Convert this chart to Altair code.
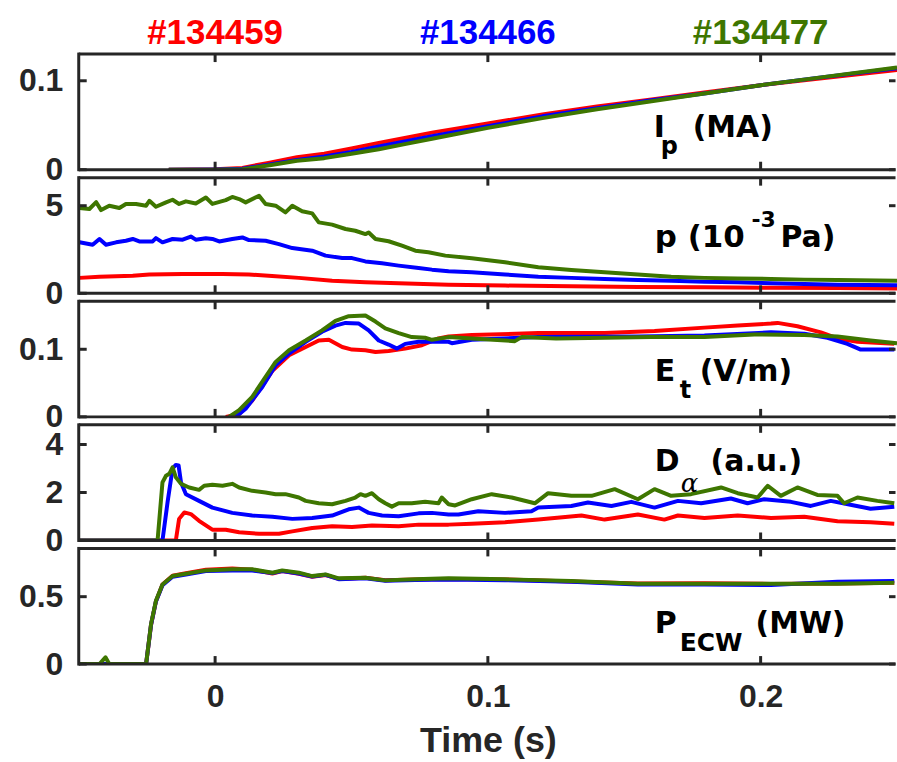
import altair as alt
import pandas as pd

# Discharges and their trace colours
SHOTS = ["#134459", "#134466", "#134477"]
COLORS = ["#FF0000", "#0000FF", "#3E7600"]

# ---------------- Plasma current Ip (MA) ----------------
ip_t = [-0.017, 0.0, 0.01, 0.02, 0.03, 0.04, 0.05, 0.06, 0.07, 0.08, 0.10, 0.12,
        0.14, 0.16, 0.18, 0.20, 0.22, 0.25]
ip_134459 = [0, 0.0005, 0.002, 0.008, 0.014, 0.018, 0.024, 0.030, 0.036, 0.042,
             0.052, 0.062, 0.071, 0.079, 0.087, 0.095, 0.102, 0.112]
ip_134466 = [0, 0.0003, 0.001, 0.006, 0.011, 0.015, 0.020, 0.026, 0.032, 0.038,
             0.049, 0.060, 0.069, 0.078, 0.086, 0.095, 0.103, 0.114]
ip_134477 = [0, 0.0, 0.0005, 0.005, 0.010, 0.013, 0.018, 0.023, 0.029, 0.035,
             0.047, 0.058, 0.068, 0.077, 0.086, 0.095, 0.103, 0.115]

# ---------------- Neutral pressure p (1e-3 Pa) ----------------
p_t_134459 = [-0.0497, -0.0424, -0.0302, -0.0241, -0.0119, 0.0027, 0.0124, 0.0209,
              0.0307, 0.0429, 0.0551, 0.0673, 0.0856, 0.1063, 0.1306, 0.155, 0.1794,
              0.2038, 0.2282, 0.25]
p_134459 = [0.88, 0.95, 1.0, 1.07, 1.1, 1.1, 1.07, 0.99, 0.88, 0.72, 0.63, 0.57,
            0.49, 0.44, 0.40, 0.36, 0.34, 0.32, 0.30, 0.28]
p_t_134466 = [-0.0497, -0.0449, -0.0424, -0.04, -0.0363, -0.0327, -0.0302, -0.0278,
              -0.0229, -0.0217, -0.0193, -0.0156, -0.0119, -0.0089, -0.0071, -0.0034,
              -0.001, 0.0015, 0.0063, 0.01, 0.0124, 0.0185, 0.0234, 0.0283, 0.0356,
              0.0405, 0.0466, 0.0502, 0.0551, 0.0612, 0.0673, 0.0746, 0.0795, 0.0856,
              0.0941, 0.1063, 0.1185, 0.1306, 0.1428, 0.155, 0.1672, 0.1794, 0.1916,
              0.2038, 0.216, 0.2282, 0.25]
p_134466 = [2.91, 2.77, 3.1, 2.77, 2.91, 3.0, 3.1, 2.96, 2.96, 3.15, 2.91, 3.1, 3.06,
            3.24, 3.06, 3.14, 3.1, 2.96, 3.1, 3.19, 3.04, 3.0, 2.81, 2.58, 2.43, 2.15,
            2.01, 2.01, 1.82, 1.71, 1.58, 1.44, 1.35, 1.26, 1.2, 1.07, 0.95, 0.88,
            0.82, 0.76, 0.72, 0.66, 0.63, 0.57, 0.53, 0.49, 0.46]
p_t_134477 = [-0.0497, -0.0461, -0.0436, -0.0418, -0.0388, -0.0351, -0.0327, -0.029,
              -0.0253, -0.0241, -0.0217, -0.018, -0.0156, -0.0132, -0.0107, -0.0071,
              -0.0034, -0.001, 0.0039, 0.0063, 0.0088, 0.0112, 0.0161, 0.0185, 0.0222,
              0.0258, 0.0283, 0.0319, 0.0356, 0.038, 0.0429, 0.0478, 0.0514, 0.0551,
              0.0563, 0.0588, 0.0636, 0.0685, 0.0734, 0.0782, 0.0844, 0.0941, 0.1063,
              0.1185, 0.1306, 0.1428, 0.155, 0.1672, 0.1794, 0.1916, 0.2038, 0.216,
              0.2282, 0.25]
p_134477 = [4.87, 4.81, 5.2, 4.75, 5.0, 4.87, 5.1, 5.1, 5.0, 5.28, 4.94, 5.19, 5.34,
            5.1, 5.25, 5.13, 5.47, 5.1, 5.32, 5.5, 5.38, 5.19, 5.57, 5.1, 5.0, 4.62,
            5.0, 4.68, 4.56, 4.05, 3.92, 3.67, 3.57, 3.38, 3.47, 3.1, 2.97, 2.72,
            2.43, 2.34, 2.15, 2.0, 1.77, 1.49, 1.33, 1.2, 1.07, 0.95, 0.88, 0.84,
            0.82, 0.78, 0.76, 0.72]

# ---------------- Toroidal electric field Et (V/m) ----------------
et_t_134459 = [0.0039, 0.0088, 0.0136, 0.021, 0.0271, 0.0332, 0.038, 0.0417, 0.0466,
               0.0502, 0.0551, 0.0588, 0.0636, 0.0697, 0.0758, 0.0819, 0.0856, 0.0941,
               0.1185, 0.1428, 0.1611, 0.1794, 0.1916, 0.2038, 0.2062, 0.2135, 0.2221,
               0.2282, 0.2355, 0.249]
et_134459 = [0, 0.0039, 0.024, 0.068, 0.0911, 0.1034, 0.113, 0.114, 0.1034, 0.0995,
             0.0985, 0.096, 0.0975, 0.101, 0.106, 0.116, 0.119, 0.121, 0.124, 0.124,
             0.127, 0.132, 0.135, 0.138, 0.139, 0.134, 0.125, 0.116, 0.111, 0.108]
et_t_134466 = [0.0076, 0.0112, 0.0173, 0.0222, 0.0271, 0.0332, 0.0392, 0.0441, 0.0478,
               0.0527, 0.0563, 0.06, 0.0636, 0.0667, 0.0697, 0.0746, 0.0795, 0.0856,
               0.0868, 0.0941, 0.1185, 0.155, 0.1794, 0.2038, 0.216, 0.2245, 0.2318,
               0.2367, 0.249]
et_134466 = [0, 0.0121, 0.0443, 0.0764, 0.0936, 0.111, 0.126, 0.135, 0.139, 0.138,
             0.128, 0.113, 0.107, 0.101, 0.108, 0.111, 0.111, 0.111, 0.109, 0.114,
             0.118, 0.119, 0.1205, 0.125, 0.123, 0.117, 0.108, 0.0995, 0.0995]
et_t_134477 = [0.0051, 0.0088, 0.0136, 0.0185, 0.0222, 0.0271, 0.0332, 0.0392, 0.0441,
               0.049, 0.0551, 0.0588, 0.0624, 0.0673, 0.0721, 0.077, 0.0795, 0.0856,
               0.0941, 0.1099, 0.1124, 0.125, 0.1428, 0.16, 0.1794, 0.1977, 0.216,
               0.2282, 0.2403, 0.25]
et_134477 = [0, 0.0099, 0.0296, 0.0591, 0.0813, 0.0985, 0.113, 0.128, 0.142, 0.149,
             0.150, 0.141, 0.131, 0.124, 0.118, 0.117, 0.114, 0.118, 0.116, 0.112,
             0.118, 0.116, 0.117, 0.118, 0.118, 0.122, 0.121, 0.119, 0.113, 0.109]

# ---------------- D-alpha emission (a.u.) ----------------
da_t_134459 = [-0.05, -0.0144, -0.0132, -0.0113, -0.0089, -0.0059, -0.001, 0.0039,
               0.0088, 0.0161, 0.0234, 0.0283, 0.0356, 0.0429, 0.0502, 0.0575, 0.0673,
               0.0746, 0.0856, 0.0941, 0.1063, 0.1185, 0.1343, 0.1428, 0.155, 0.1647,
               0.1697, 0.1794, 0.1916, 0.2038, 0.216, 0.2282, 0.2403, 0.249]
da_134459 = [0, 0, 0.9, 1.17, 1.1, 0.82, 0.45, 0.45, 0.34, 0.28, 0.28, 0.38, 0.52,
             0.59, 0.56, 0.62, 0.59, 0.66, 0.66, 0.7, 0.76, 0.87, 1.04, 0.87, 1.08,
             0.87, 1.04, 0.94, 1.04, 0.94, 0.99, 0.8, 0.76, 0.7]
da_t_134466 = [-0.05, -0.0193, -0.0174, -0.0156, -0.0144, -0.0134, -0.0125, -0.0107,
               -0.0059, -0.001, 0.0063, 0.0136, 0.021, 0.0283, 0.0356, 0.0429, 0.049,
               0.0527, 0.0563, 0.0612, 0.0673, 0.0746, 0.0795, 0.0856, 0.0892, 0.0965,
               0.1063, 0.116, 0.1185, 0.1306, 0.1367, 0.1453, 0.1526, 0.1611, 0.1697,
               0.1782, 0.1891, 0.1952, 0.2013, 0.2111, 0.2184, 0.2257, 0.2343, 0.2403,
               0.249]
da_134466 = [0, 0, 1.62, 3.0, 3.15, 3.13, 2.42, 1.93, 1.65, 1.37, 1.15, 1.04, 0.99,
             0.9, 0.94, 1.04, 1.3, 1.37, 1.15, 1.04, 1.01, 1.13, 1.15, 1.08, 1.08,
             1.22, 1.15, 1.22, 1.37, 1.44, 1.58, 1.44, 1.61, 1.37, 1.65, 1.55, 1.75,
             1.55, 1.72, 1.61, 1.44, 1.65, 1.46, 1.32, 1.41]
da_t_134477 = [-0.05, -0.0211, -0.0193, -0.018, -0.0168, -0.0156, -0.0144, -0.0125,
               -0.0095, -0.0059, -0.004, -0.001, 0.0027, 0.0063, 0.0088, 0.0136, 0.0185,
               0.0222, 0.0258, 0.0307, 0.0332, 0.038, 0.0429, 0.0478, 0.0514, 0.0533,
               0.0551, 0.0575, 0.06, 0.0624, 0.0648, 0.0673, 0.0721, 0.077, 0.0819,
               0.0831, 0.0856, 0.088, 0.0941, 0.1014, 0.1087, 0.1172, 0.1221, 0.1306,
               0.138, 0.1465, 0.155, 0.1611, 0.1672, 0.1745, 0.1855, 0.1916, 0.1989,
               0.2026, 0.2074, 0.2135, 0.2208, 0.2282, 0.2306, 0.2355, 0.2428, 0.249]
da_134477 = [0, 0, 2.42, 2.7, 2.78, 3.05, 2.63, 2.36, 2.21, 2.11, 2.28, 2.32, 2.28,
             2.36, 2.21, 2.07, 2.0, 1.93, 1.93, 1.79, 1.65, 1.55, 1.51, 1.65, 1.79,
             1.93, 1.86, 1.97, 1.72, 1.55, 1.41, 1.55, 1.55, 1.61, 1.55, 1.79, 1.51,
             1.46, 1.72, 1.93, 1.79, 1.55, 1.97, 1.86, 1.86, 2.14, 1.72, 2.14, 1.86,
             1.93, 2.21, 1.97, 1.79, 2.28, 1.86, 2.21, 1.9, 1.86, 1.55, 1.79, 1.65,
             1.55]

# ---------------- ECW heating power (MW) ----------------
pe_t = [-0.05, -0.0424, -0.0402, -0.0388, -0.0253, -0.0235, -0.0217, -0.0193, -0.0156,
        -0.0107, -0.0034, 0.0063, 0.0136, 0.021, 0.0246, 0.0307, 0.0356, 0.0405,
        0.0453, 0.0551, 0.0624, 0.0734, 0.0856, 0.1063, 0.1306, 0.155, 0.1794, 0.2038,
        0.2282, 0.249]
pe_134459 = [0, 0, 0, 0, 0, 0.29, 0.465, 0.59, 0.655, 0.675, 0.70, 0.71, 0.70, 0.672,
             0.69, 0.67, 0.648, 0.66, 0.632, 0.64, 0.622, 0.628, 0.632, 0.628, 0.612,
             0.598, 0.60, 0.595, 0.598, 0.604]
pe_134466 = [0, 0, 0, 0, 0, 0.29, 0.465, 0.585, 0.648, 0.665, 0.69, 0.695, 0.695,
             0.675, 0.69, 0.672, 0.65, 0.662, 0.63, 0.636, 0.618, 0.624, 0.628, 0.622,
             0.61, 0.59, 0.59, 0.586, 0.61, 0.616]
pe_134477 = [0, 0, 0.05, 0, 0, 0.296, 0.469, 0.591, 0.653, 0.67, 0.695, 0.703, 0.703,
             0.678, 0.695, 0.678, 0.653, 0.665, 0.636, 0.641, 0.621, 0.629, 0.636,
             0.629, 0.616, 0.596, 0.596, 0.596, 0.596, 0.604]

# Axis ticks
X_TICKS = [0, 0.1, 0.2]
X_DOMAIN = [-0.05, 0.25]

W, H = 821, 116
TICK_LEN = 8
INK = "#262626"
FONT = "Liberation Sans"
LABEL_FONT = "DejaVu Sans"
EDGE = W - 1.5  # keep the right-hand strokes inside the plot box


def long_frame(series):
    rows = []
    for shot, ts, vs in series:
        for t, v in zip(ts, vs):
            rows.append({"t": t, "val": v, "shot": shot})
    return pd.DataFrame(rows)


shot_color = alt.Color("shot:N", scale=alt.Scale(domain=SHOTS, range=COLORS), legend=None)
ONE_ROW = pd.DataFrame({"k": [0]})


def label(text, x, y, size=30, font=LABEL_FONT, style="normal", weight="bold"):
    return alt.Chart(ONE_ROW).mark_text(
        text=text, font=font, fontSize=size, fontWeight=weight, fontStyle=style,
        align="left", baseline="alphabetic", color="black",
    ).encode(x=alt.value(x), y=alt.value(y))


def panel(df, y_domain, y_ticks, labels, bottom=False, headings=False):
    if bottom:
        x_axis = alt.Axis(values=X_TICKS, format="~g", title="Time (s)", ticks=False,
                          domain=False, grid=False, labelPadding=18, titlePadding=11,
                          labelFlush=False)
    else:
        x_axis = None
    x = alt.X("t:Q", scale=alt.Scale(domain=X_DOMAIN, nice=False, zero=False),
              axis=x_axis)
    y = alt.Y("val:Q", scale=alt.Scale(domain=y_domain, nice=False, zero=False),
              axis=alt.Axis(values=y_ticks, format="~g", title=None, ticks=False,
                            domain=False, grid=False, labelPadding=16))

    lines = alt.Chart(df).mark_line(strokeWidth=4, clip=True,
                                    strokeJoin="round").encode(x=x, y=y, color=shot_color)

    # box on three sides (the right side runs past the page edge)
    frame = dict(color=INK, strokeWidth=3)
    box = [
        alt.Chart(ONE_ROW).mark_rule(**frame).encode(
            x=alt.value(0), x2=alt.value(EDGE), y=alt.value(0)),
        alt.Chart(ONE_ROW).mark_rule(**frame).encode(
            x=alt.value(0), x2=alt.value(EDGE), y=alt.value(H)),
        alt.Chart(ONE_ROW).mark_rule(**frame).encode(
            x=alt.value(0), y=alt.value(-1.5), y2=alt.value(H + 1.5)),
    ]

    xt = pd.DataFrame({"t": X_TICKS})
    yt = pd.DataFrame({"val": y_ticks})
    top_ticks = alt.Chart(xt).mark_rule(**frame).encode(
        x=x, y=alt.value(0), y2=alt.value(TICK_LEN))
    bottom_ticks = alt.Chart(xt).mark_rule(**frame).encode(
        x=x, y=alt.value(H - TICK_LEN), y2=alt.value(H))
    left_ticks = alt.Chart(yt).mark_rule(**frame).encode(
        y=y, x=alt.value(0), x2=alt.value(TICK_LEN))
    right_ticks = alt.Chart(yt).mark_rule(**frame).encode(
        y=y, x=alt.value(W - TICK_LEN), x2=alt.value(EDGE))

    layers = [lines] + box + [top_ticks, bottom_ticks, left_ticks, right_ticks] + labels
    if headings:
        head_df = pd.DataFrame({"t": X_TICKS, "shot": SHOTS})
        layers.append(
            alt.Chart(head_df).mark_text(font=FONT, fontSize=35, fontWeight="bold",
                                         align="center", baseline="alphabetic")
            .encode(x=x, y=alt.value(-10), text="shot:N", color=shot_color)
        )
    return alt.layer(*layers).properties(width=W, height=H)


ip_df = long_frame([(SHOTS[0], ip_t, ip_134459), (SHOTS[1], ip_t, ip_134466),
                    (SHOTS[2], ip_t, ip_134477)])
p_df = long_frame([(SHOTS[0], p_t_134459, p_134459), (SHOTS[1], p_t_134466, p_134466),
                   (SHOTS[2], p_t_134477, p_134477)])
et_df = long_frame([(SHOTS[0], et_t_134459, et_134459),
                    (SHOTS[1], et_t_134466, et_134466),
                    (SHOTS[2], et_t_134477, et_134477)])
da_df = long_frame([(SHOTS[0], da_t_134459, da_134459),
                    (SHOTS[1], da_t_134466, da_134466),
                    (SHOTS[2], da_t_134477, da_134477)])
pe_df = long_frame([(SHOTS[0], pe_t, pe_134459), (SHOTS[1], pe_t, pe_134466),
                    (SHOTS[2], pe_t, pe_134477)])

ip_panel = panel(ip_df, [0, 0.13], [0, 0.1], [
    label("I", 577, 83), label("p", 584, 100, size=24), label("(MA)", 616, 83),
], headings=True)
p_panel = panel(p_df, [0, 6.6], [0, 5], [
    label("p (10", 578, 70, size=31), label("-3", 675, 49, size=22),
    label("Pa)", 704, 70),
])
et_panel = panel(et_df, [0, 0.171], [0, 0.1], [
    label("E", 578, 80), label("t", 603, 97, size=24), label("(V/m)", 623, 80),
])
da_panel = panel(da_df, [0, 4.82], [0, 2, 4], [
    label("D", 578, 46), label("α", 604, 67, size=26, font="DejaVu Serif",
                               style="italic", weight="normal"),
    label("(a.u.)", 634, 46),
])
pe_panel = panel(pe_df, [0, 0.858], [0, 0.5], [
    label("P", 578, 85), label("ECW", 603, 103, size=25), label("(MW)", 679, 85),
], bottom=True)

chart = alt.vconcat(ip_panel, p_panel, et_panel, da_panel, pe_panel,
                    spacing=8, bounds="flush").properties(
    padding={"left": 18, "top": 15, "right": 0, "bottom": 0}
).configure_view(
    stroke=None
).configure_axis(
    labelFont=FONT, labelFontSize=32, labelFontWeight="bold", labelColor=INK,
    titleFont=FONT, titleFontSize=36, titleFontWeight="bold", titleColor=INK,
    labelOverlap=False,
)

chart.save("out.html", embed_options={"renderer": "svg", "actions": False})
